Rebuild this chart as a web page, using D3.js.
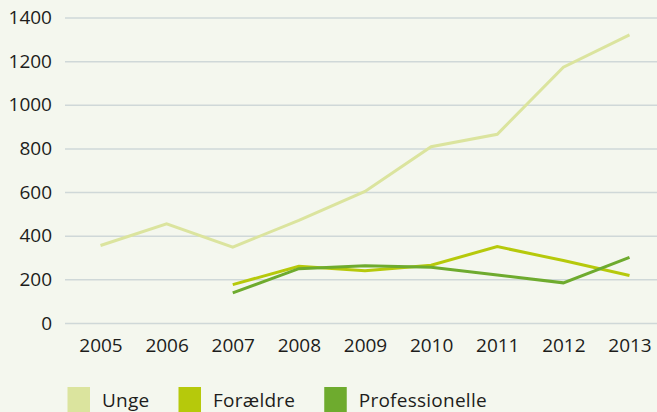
<!DOCTYPE html>
<html>
  <head>
    <meta charset="UTF-8" />
    <title></title>
    <script src="https://cdn.jsdelivr.net/npm/d3@7"></script>
    <style>
      html, body { margin: 0; padding: 0; background: #f4f7ee; }
      svg { display: block; }
    </style>
  </head>
  <body>
    <svg></svg>
    <script>
      // data
      const years = [2005, 2006, 2007, 2008, 2009, 2010, 2011, 2012, 2013];
      const unge = [355, 455, 348, 470, 603, 808, 865, 1172, 1320];
      const foraeldre = [null, null, 176, 260, 240, 265, 350, 286, 218];
      const professionelle = [null, null, 138, 249, 262, 255, 220, 184, 301];
      const yTicks = [0, 200, 400, 600, 800, 1000, 1200, 1400];

      const series = [
        { name: 'Unge', values: unge, color: '#dbe49e' },
        { name: 'Forældre', values: foraeldre, color: '#b6c90b' },
        { name: 'Professionelle', values: professionelle, color: '#6eab2e' }
      ];

      const width = 657;
      const height = 412;
      const font = '"Open Sans", sans-serif';

      const svg = d3
        .select('svg')
        .attr('width', width)
        .attr('height', height)
        .style('font-family', font);

      svg.append('rect').attr('width', width).attr('height', height).attr('fill', '#f4f7ee');

      // scales
      const x = d3.scalePoint().domain(years).range([100.5, 629.5]);
      const y = d3.scaleLinear().domain([0, 1400]).range([323, 17.5]);

      // y axis + gridlines
      const gridLeft = 65;
      svg
        .append('g')
        .attr('transform', `translate(${gridLeft},0)`)
        .call(
          d3.axisLeft(y)
            .tickValues(yTicks)
            .tickSize(-(width - gridLeft))
            .tickPadding(13)
            .tickFormat(d3.format('d'))
        )
        .call((g) => g.select('.domain').remove())
        .call((g) => g.selectAll('.tick line').attr('stroke', '#cfd8d8').attr('stroke-width', 1.5))
        .call((g) =>
          g.selectAll('.tick text')
            .attr('fill', '#1d1d1b')
            .style('font-size', '19px')
            .style('font-family', font)
        );

      // x axis labels
      svg
        .append('g')
        .attr('transform', 'translate(0,345)')
        .call(d3.axisBottom(x).tickSize(0).tickPadding(0))
        .call((g) => g.select('.domain').remove())
        .call((g) =>
          g.selectAll('.tick text')
            .attr('dy', '0.35em')
            .attr('fill', '#1d1d1b')
            .style('font-size', '19px')
            .style('font-family', font)
        );

      // lines
      const line = d3
        .line()
        .defined((d) => d[1] != null)
        .x((d) => x(d[0]))
        .y((d) => y(d[1]));

      svg
        .append('g')
        .attr('fill', 'none')
        .selectAll('path')
        .data(series)
        .join('path')
        .attr('stroke', (d) => d.color)
        .attr('stroke-width', 3)
        .attr('stroke-linejoin', 'miter')
        .attr('d', (d) => line(years.map((yr, i) => [yr, d.values[i]])));

      // legend (kept just inside the bottom edge)
      const legend = svg.append('g').attr('transform', 'translate(67.5,387)');
      let lx = 0;
      series.forEach((s) => {
        const item = legend.append('g').attr('transform', `translate(${lx},0)`);
        item.append('rect').attr('width', 22.5).attr('height', 25).attr('fill', s.color);
        const t = item
          .append('text')
          .attr('x', 34.5)
          .attr('y', 19.5)
          .attr('fill', '#1d1d1b')
          .style('font-size', '19px')
          .style('letter-spacing', '0.25px')
          .text(s.name);
        lx += 34.5 + t.node().getComputedTextLength() + 29;
      });
    </script>
  </body>
</html>
